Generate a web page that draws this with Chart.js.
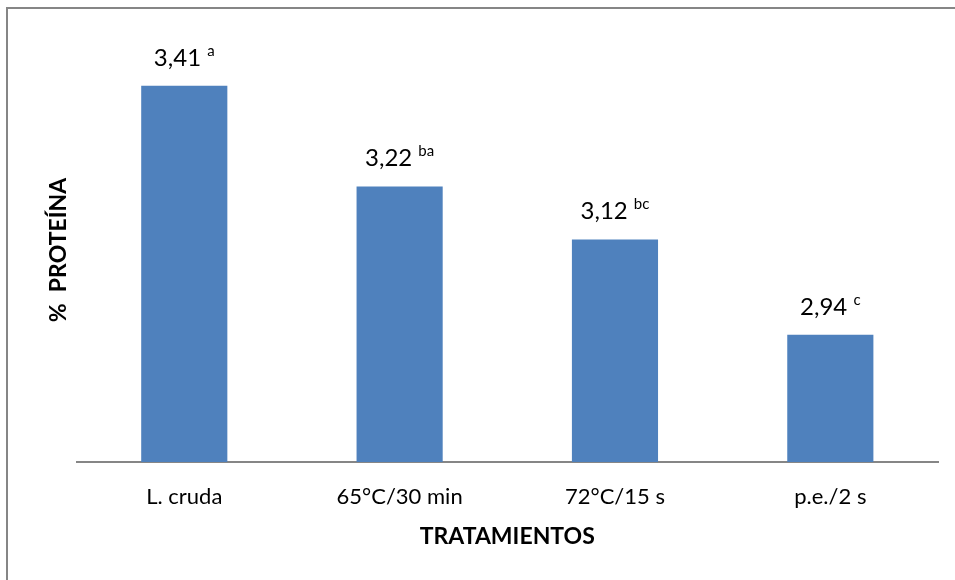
<!DOCTYPE html>
<html>
<head>
<meta charset="utf-8">
<script src="https://cdn.jsdelivr.net/npm/chart.js@4/dist/chart.umd.min.js"></script>
<style>
body { margin: 0; background: #fff; }
#wrap { width: 955px; height: 580px; }
</style>
</head>
<body>
<div id="wrap"><canvas id="myChart"></canvas></div>
<script>
// data
var tratamientos = ["L. cruda", "65°C/30 min", "72°C/15 s", "p.e./2 s"];
var proteina = [3.41, 3.22, 3.12, 2.94];
var letras = ["a", "ba", "bc", "c"];

var FONT = "Lato, 'Open Sans', sans-serif";

// thin frame, only top and left edges show in the picture
var framePlugin = {
	id: 'frame',
	beforeDraw: function(chart)
	{
		var ctx = chart.ctx;
		ctx.save();
		ctx.strokeStyle = '#868686';
		ctx.lineWidth = 2;
		ctx.beginPath();
		ctx.moveTo(7, 580);
		ctx.lineTo(7, 8);
		ctx.lineTo(955, 8);
		ctx.stroke();
		ctx.restore();
	}
};

// value + superscript letter above each bar
var valueLabels = {
	id: 'valueLabels',
	afterDatasetsDraw: function(chart)
	{
		var ctx = chart.ctx;
		var meta = chart.getDatasetMeta(0);
		ctx.save();
		ctx.fillStyle = '#000';
		ctx.textBaseline = 'alphabetic';
		ctx.textAlign = 'left';
		for (var i = 0; i < meta.data.length; i++)
		{
			var bar = meta.data[i];
			var txt = proteina[i].toFixed(2).replace('.', ',');
			ctx.font = "24px " + FONT;
			var w1 = ctx.measureText(txt + " ").width;
			ctx.font = "15px " + FONT;
			var w2 = ctx.measureText(letras[i]).width;
			var x0 = bar.x - (w1 + w2) / 2;
			var base = bar.y - 20;
			ctx.font = "24px " + FONT;
			ctx.fillText(txt, x0, base);
			ctx.font = "15px " + FONT;
			ctx.fillText(letras[i], x0 + w1, base - 10);
		}
		ctx.restore();
	}
};

var ctx = document.getElementById('myChart').getContext('2d');
var barChart = new Chart(ctx, {
	type: 'bar',
	data: {
		labels: tratamientos,
		datasets: [{
			data: proteina,
			backgroundColor: '#4F81BD',
			barPercentage: 0.4,
			categoryPercentage: 1.0
		}]
	},
	options: {
		responsive: true,
		maintainAspectRatio: false,
		animation: false,
		layout: { padding: { left: 45, right: 17, top: 38, bottom: 30 } },
		plugins: {
			legend: { display: false },
			tooltip: { enabled: false }
		},
		scales: {
			x: {
				grid: { display: false, drawTicks: false },
				border: { display: true, color: '#868686', width: 2 },
				ticks: { color: '#000', padding: 22, font: { family: FONT, size: 22 } },
				title: {
					display: true,
					text: 'TRATAMIENTOS',
					color: '#000',
					padding: { top: -10, bottom: 0 },
					font: { family: FONT, size: 23, weight: 'bold' }
				}
			},
			y: {
				min: 2.7,
				max: 3.5,
				grid: { display: false, drawTicks: false },
				border: { display: false },
				ticks: { display: false },
				title: {
					display: true,
					text: '%  PROTEÍNA',
					color: '#000',
					padding: { top: 0, bottom: 4 },
					font: { family: FONT, size: 23, weight: 'bold' }
				}
			}
		}
	},
	plugins: [framePlugin, valueLabels]
});
</script>
</body>
</html>
